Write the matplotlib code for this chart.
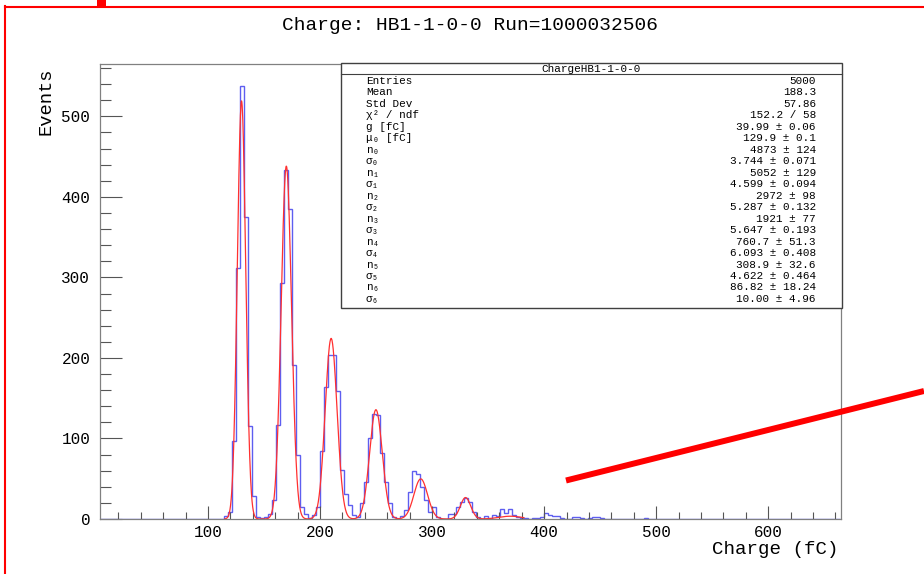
import numpy as np
import matplotlib
matplotlib.use("Agg")
from matplotlib import pyplot as plt
from matplotlib.lines import Line2D
from matplotlib.patches import Rectangle

W, H = 924, 574
MONO = ["Liberation Mono", "DejaVu Sans Mono"]

# histogram binning (fC)
x_lo = 25 / 7
bin_w = 25 / 7
n_bins = 185
first_bin = 30
# counts per bin, starting at bin index first_bin
counts_block = [
    0, 4, 9, 97, 312, 538, 375, 115, 29, 2,
    1, 3, 6, 23, 117, 293, 433, 385, 191, 79,
    15, 6, 1, 5, 15, 85, 164, 204, 204, 159,
    61, 31, 17, 5, 2, 20, 46, 100, 131, 129,
    82, 46, 20, 2, 0, 4, 11, 33, 60, 56,
    40, 24, 9, 15, 3, 0, 0, 6, 6, 15,
    21, 26, 21, 9, 2, 0, 4, 0, 5, 4,
    13, 7, 13, 5, 2, 1, 1, 0, 1, 1,
    3, 7, 5, 4, 4, 1, 0, 0, 3, 3,
    1, 0, 1, 2, 2, 1, 0, 0, 0, 0,
    0, 0, 0, 0, 0, 0, 1,
]

# fit parameters from the stats box
gain = 39.99
mu0 = 129.9
n_par = [4873, 5052, 2972, 1921, 760.7, 308.9, 86.82]
sigma_par = [3.744, 4.599, 5.287, 5.647, 6.093, 4.622, 10.00]
fit_lo, fit_hi = 115, 382

stat_title = "ChargeHB1-1-0-0"
stat_labels = ["Entries", "Mean", "Std Dev", "χ² / ndf", "g [fC]", "μ₀ [fC]",
               "n₀", "σ₀", "n₁", "σ₁", "n₂", "σ₂", "n₃", "σ₃",
               "n₄", "σ₄", "n₅", "σ₅", "n₆", "σ₆"]
stat_values = ["5000", "188.3", "57.86", "152.2 / 58", "39.99 ± 0.06",
               "129.9 ± 0.1", "4873 ± 124", "3.744 ± 0.071", "5052 ± 129",
               "4.599 ± 0.094", "2972 ± 98", "5.287 ± 0.132", "1921 ± 77",
               "5.647 ± 0.193", "760.7 ± 51.3", "6.093 ± 0.408", "308.9 ± 32.6",
               "4.622 ± 0.464", "86.82 ± 18.24", "10.00 ± 4.96"]


def fx(px):
    return px / W


def fy(py):
    return 1 - py / H


counts = np.zeros(n_bins)
counts[first_bin:first_bin + len(counts_block)] = counts_block
edges = x_lo + bin_w * np.arange(n_bins + 1)

# fitted curve: sum of gaussians evaluated from the box parameters
xf = np.linspace(fit_lo, fit_hi, 1000)
yf = np.zeros_like(xf)
for i, (n, s) in enumerate(zip(n_par, sigma_par)):
    yf += n / (s * np.sqrt(2 * np.pi)) * np.exp(-0.5 * ((xf - mu0 - i * gain) / s) ** 2)

fig = plt.figure(figsize=(W / 100, H / 100), dpi=100)
ax = fig.add_axes([fx(100), fy(519), fx(741), 455 / H])

ax.stairs(counts, edges, color="#5e5ef0", lw=1.0)
ax.plot(xf, yf, color="#ff3030", lw=0.9)

ax.set_xlim(x_lo, 665)
ax.set_ylim(0, 565)
ax.set_xticks(np.arange(100, 601, 100))
ax.set_xticks(np.arange(20, 661, 20), minor=True)
ax.set_yticks(np.arange(0, 501, 100))
ax.set_yticks(np.arange(20, 561, 20), minor=True)
ax.tick_params(axis="y", which="major", direction="in", length=16, width=0.8, color="#555555", pad=7)
ax.tick_params(axis="y", which="minor", direction="in", length=8, width=0.8, color="#555555")
ax.tick_params(axis="x", which="major", direction="in", length=9.5, width=0.8, color="#555555", pad=4)
ax.tick_params(axis="x", which="minor", direction="in", length=5, width=0.8, color="#555555")
for lab in ax.get_xticklabels() + ax.get_yticklabels():
    lab.set_family(MONO)
    lab.set_fontsize(11.5)
for sp in ax.spines.values():
    sp.set_color("#808080")
    sp.set_linewidth(0.9)

# titles
fig.text(fx(470), fy(25), "Charge: HB1-1-0-0 Run=1000032506", family=MONO,
         fontsize=14, ha="center", va="center")
fig.text(fx(46), fy(101), "Events", family=MONO, fontsize=13.5,
         rotation=90, ha="center", va="center")
fig.text(fx(838), fy(550), "Charge (fC)", family=MONO, fontsize=13.8,
         ha="right", va="center")

# stats box
fig.add_artist(Rectangle((fx(341), fy(308)), fx(501), 245 / H, transform=fig.transFigure,
                         facecolor="white", edgecolor="#404040", lw=1.0))
fig.add_artist(Line2D([fx(341), fx(842)], [fy(74), fy(74)], color="#404040", lw=0.8))
fig.text(fx(591), fy(68.5), stat_title, family=MONO, fontsize=7.9, ha="center", va="center")
for i, (lab, val) in enumerate(zip(stat_labels, stat_values)):
    y = fy(81 + i * 11.47)
    fig.text(fx(366), y, lab, family=MONO, fontsize=7.9, ha="left", va="center")
    fig.text(fx(816), y, val, family=MONO, fontsize=7.9, ha="right", va="center")

# red annotation marks
fig.add_artist(Line2D([fx(5), fx(5)], [fy(6), fy(574)], color="red", lw=1.5))
fig.add_artist(Line2D([fx(5), fx(924)], [fy(6.5), fy(6.5)], color="red", lw=1.5))
fig.add_artist(Rectangle((fx(97), fy(7)), fx(9), 7 / H, transform=fig.transFigure,
                         facecolor="red", edgecolor="none"))
fig.add_artist(Line2D([fx(566), fx(924)], [fy(480.5), fy(391)], color="red", lw=4.3,
                      solid_capstyle="butt"))

fig.savefig("out.png", dpi=100)
